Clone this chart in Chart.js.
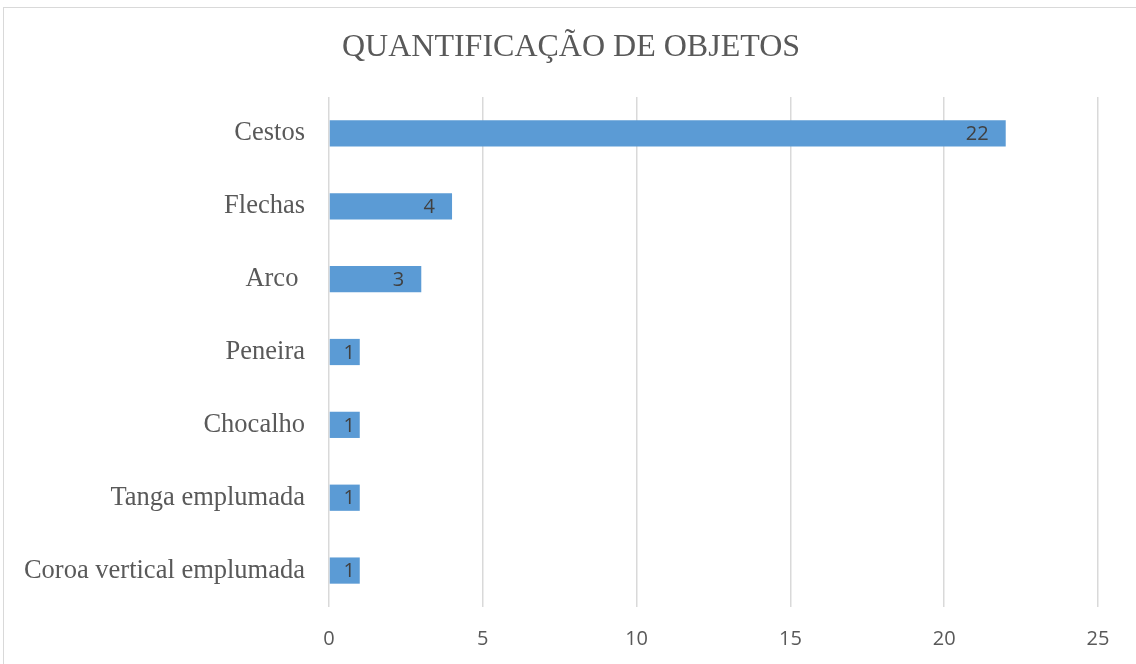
<!DOCTYPE html>
<html>
<head>
<meta charset="utf-8">
<script src="https://cdn.jsdelivr.net/npm/chart.js@4"></script>
<style>
  html, body { margin: 0; padding: 0; background: #fff; }
  #wrap { position: relative; width: 1136px; height: 664px; }
</style>
</head>
<body>
<div id="wrap"><canvas id="myChart" width="1136" height="664"></canvas></div>
<script>
var categorias = ['Cestos', 'Flechas', 'Arco ', 'Peneira', 'Chocalho', 'Tanga emplumada', 'Coroa vertical emplumada']
var quantidades = [22, 4, 3, 1, 1, 1, 1]
var ticks_x = [0, 5, 10, 15, 20, 25]
var titulo = 'QUANTIFICAÇÃO DE OBJETOS'

// moldura + titulo
const moldura = {
  id: 'moldura',
  beforeDraw(chart) {
    const c = chart.ctx
    c.save()
    c.fillStyle = '#fff'
    c.fillRect(0, 0, chart.width, chart.height)
    c.strokeStyle = '#d9d9d9'
    c.lineWidth = 1
    c.strokeRect(3.5, 7.5, chart.width + 10, chart.height + 10)
    c.fillStyle = '#595959'
    c.font = '32px "Liberation Serif"'
    c.textAlign = 'center'
    c.textBaseline = 'middle'
    c.fillText(titulo, 571, 48)
    c.restore()
  }
}

// rotulos de dados (inside end)
const rotulos = {
  id: 'rotulos',
  afterDatasetsDraw(chart) {
    const c = chart.ctx
    const meta = chart.getDatasetMeta(0)
    const base = chart.scales.x.getPixelForValue(0)
    c.save()
    c.fillStyle = '#404040'
    c.font = '20px "Open Sans"'
    c.textAlign = 'right'
    c.textBaseline = 'middle'
    meta.data.forEach(function (bar, i) {
      var xr = Math.max(bar.x - 17, base + 26)
      c.fillText(String(quantidades[i]), xr, bar.y + 1)
    })
    c.restore()
  }
}

const ctx = document.getElementById('myChart')

new Chart(ctx, {
  type: 'bar',
  data: {
    labels: categorias,
    datasets: [{
      label: 'quantidade',
      data: quantidades,
      backgroundColor: '#5b9bd5',
      borderWidth: 0,
      barPercentage: 0.36,
      categoryPercentage: 1
    }]
  },
  options: {
    indexAxis: 'y',
    responsive: false,
    animation: false,
    layout: { padding: { top: 97, right: 38, bottom: 0, left: 0 } },
    plugins: {
      legend: { display: false },
      title: { display: false },
      tooltip: { enabled: false }
    },
    scales: {
      x: {
        min: 0,
        max: 25,
        afterBuildTicks: function (scale) {
          scale.ticks = ticks_x.map(function (v) { return { value: v } })
        },
        afterFit: function (scale) { scale.height = 57 },
        grid: { color: '#d9d9d9', lineWidth: 1.5, drawTicks: false },
        border: { display: false },
        ticks: {
          padding: 20,
          color: '#595959',
          font: { family: 'Open Sans', size: 20 }
        }
      },
      y: {
        afterFit: function (scale) { scale.width = 329 },
        grid: { display: false, drawTicks: false },
        border: { display: false },
        ticks: {
          padding: 24,
          color: '#595959',
          font: { family: 'Liberation Serif', size: 26.5 }
        }
      }
    }
  },
  plugins: [moldura, rotulos]
})
</script>
</body>
</html>
